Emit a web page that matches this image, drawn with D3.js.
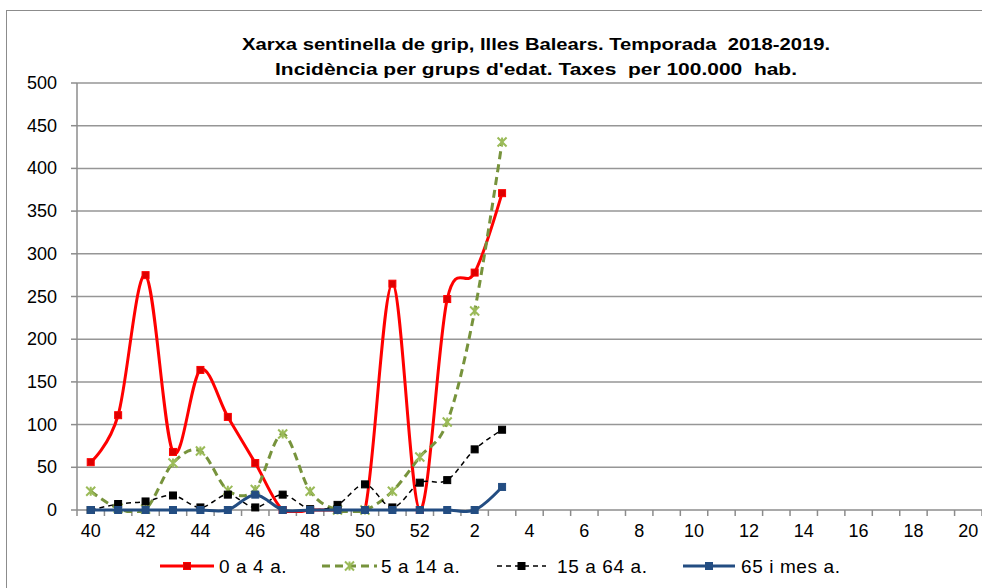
<!DOCTYPE html>
<html>
<head>
<meta charset="utf-8">
<script src="https://cdn.jsdelivr.net/npm/d3@7"></script>
<style>
  body { margin: 0; background: #fff; }
  svg { font-family: 'Liberation Sans', Arial, sans-serif; }
</style>
</head>
<body>
<svg width="982" height="588"></svg>
<script>
const weeks = ['40','41','42','43','44','45','46','47','48','49','50','51','52',
  '1','2','3','4','5','6','7','8','9','10','11','12','13','14','15','16','17','18','19','20']
const yTicks = [0, 50, 100, 150, 200, 250, 300, 350, 400, 450, 500]

// weeks 40..52, 1..3
const age0to4 = [56, 111, 275, 68, 164, 109, 55, 0, 0, 0, 0, 265, 0, 247, 278, 371]
const age5to14 = [22, 2, 1, 55, 69, 23, 24, 89, 22, 0, 0, 22, 62, 103, 233, 431]
const age15to64 = [0, 7, 10, 17, 3, 18, 3, 18, 1, 6, 30, 3, 32, 35, 71, 94]
const age65 = [0, 0, 0, 0, 0, 0, 18, 0, 0, 0, 0, 0, 0, 0, 0, 27]

const seriesNames = ['0 a 4 a.', '5 a 14 a.', '15 a 64 a.', '65 i mes a.']

const svg = d3.select('svg')
const width = +svg.attr('width')
const height = +svg.attr('height')
const margin = {left: 77, right: 0, top: 83, bottom: 78}

const x = d3.scaleBand().domain(weeks).range([margin.left, width - margin.right]).padding(0)
const y = d3.scaleLinear().domain([0, 500]).range([height - margin.bottom, margin.top])
const cx = d => x(d) + x.bandwidth() / 2

// chart border
svg.append('rect')
   .attr('x', 6.5).attr('y', 10.5)
   .attr('width', width + 20).attr('height', height + 20)
   .attr('fill', 'none').attr('stroke', '#8c8c8c').attr('stroke-width', 1)

// title
const title = [
  {t: 'Xarxa sentinella de grip, Illes Balears. Temporada  2018-2019.', y: 50, w: 588},
  {t: 'Incidència per grups d\'edat. Taxes  per 100.000  hab.', y: 75, w: 522}
]
svg.selectAll('.title').data(title).enter().append('text')
   .attr('class', 'title')
   .attr('x', 536).attr('y', d => d.y)
   .attr('text-anchor', 'middle')
   .attr('font-size', 17).attr('font-weight', 'bold')
   .attr('textLength', d => d.w).attr('lengthAdjust', 'spacingAndGlyphs')
   .style('white-space', 'pre')
   .text(d => d.t)

// gridlines
svg.append('g').selectAll('line').data(yTicks.slice(1)).enter().append('line')
   .attr('x1', margin.left).attr('x2', width)
   .attr('y1', d => y(d)).attr('y2', d => y(d))
   .attr('stroke', '#969696').attr('stroke-width', 1.5)

// y axis
const yAxis = svg.append('g')
yAxis.append('line')
   .attr('x1', margin.left).attr('x2', margin.left)
   .attr('y1', y(500)).attr('y2', y(0))
   .attr('stroke', '#8c8c8c').attr('stroke-width', 1.5)
yAxis.selectAll('.tk').data(yTicks).enter().append('line')
   .attr('x1', margin.left - 6).attr('x2', margin.left)
   .attr('y1', d => y(d)).attr('y2', d => y(d))
   .attr('stroke', '#8c8c8c').attr('stroke-width', 1.5)
yAxis.selectAll('text').data(yTicks).enter().append('text')
   .attr('x', 57).attr('y', d => y(d) + 6)
   .attr('text-anchor', 'end').attr('font-size', 18)
   .text(d => d)

// x axis
const xAxis = svg.append('g')
xAxis.append('line')
   .attr('x1', margin.left).attr('x2', width)
   .attr('y1', y(0)).attr('y2', y(0))
   .attr('stroke', '#8c8c8c').attr('stroke-width', 1.5)
xAxis.selectAll('.tk').data(weeks.concat(['end'])).enter().append('line')
   .attr('x1', (d, i) => margin.left + i * x.bandwidth())
   .attr('x2', (d, i) => margin.left + i * x.bandwidth())
   .attr('y1', y(0)).attr('y2', y(0) + 6)
   .attr('stroke', '#8c8c8c').attr('stroke-width', 1.5)
xAxis.selectAll('text').data(weeks.filter((d, i) => i % 2 === 0)).enter().append('text')
   .attr('x', d => cx(d)).attr('y', y(0) + 27)
   .attr('text-anchor', 'middle').attr('font-size', 18)
   .text(d => d)

// series
const series = [
  {name: seriesNames[0], values: age0to4, color: '#ff0000', width: 3, dash: null, marker: 'square', mfill: '#dd0000', mstroke: '#ff0000', msize: 7},
  {name: seriesNames[1], values: age5to14, color: '#77933c', width: 3, dash: '8,5', marker: 'star', mfill: '#9bbb59', mstroke: '#9bbb59', msize: 9},
  {name: seriesNames[2], values: age15to64, color: '#000000', width: 1.5, dash: '5,4', marker: 'square', mfill: '#000000', mstroke: '#000000', msize: 7},
  {name: seriesNames[3], values: age65, color: '#234d82', width: 3, dash: null, marker: 'square', mfill: '#234d82', mstroke: '#234d82', msize: 7}
]

svg.append('clipPath').attr('id', 'plot-clip')
   .append('rect')
   .attr('x', margin.left).attr('y', margin.top)
   .attr('width', width - margin.left).attr('height', y(0) - margin.top + 3)

const line = d3.line()
  .x((d, i) => cx(weeks[i]))
  .y(d => y(d))
  .curve(d3.curveCardinal.tension(0))

function drawMarker(g, s, px, py) {
  const h = s.msize / 2
  if (s.marker === 'square') {
    g.append('rect')
     .attr('x', px - h).attr('y', py - h)
     .attr('width', s.msize).attr('height', s.msize)
     .attr('fill', s.mfill).attr('stroke', s.mstroke).attr('stroke-width', 1)
  } else {
    g.append('path')
     .attr('d', `M${px - h},${py - h}L${px + h},${py + h}M${px - h},${py + h}L${px + h},${py - h}M${px},${py - h}L${px},${py + h}`)
     .attr('stroke', s.mstroke).attr('stroke-width', 2).attr('fill', 'none')
  }
}

// draw lines in order, last series on top
series.forEach(s => {
  const g = svg.append('g')
  g.append('path')
   .attr('clip-path', 'url(#plot-clip)')
   .attr('d', line(s.values))
   .attr('fill', 'none')
   .attr('stroke', s.color)
   .attr('stroke-width', s.width)
   .attr('stroke-dasharray', s.dash)
  s.values.forEach((v, i) => drawMarker(g, s, cx(weeks[i]), y(v)))
})

// legend
const legend = [
  {x1: 160, x2: 214, tx: 219},
  {x1: 322, x2: 377, tx: 381},
  {x1: 497, x2: 546, tx: 557},
  {x1: 683, x2: 735, tx: 741}
]
const ly = 566
series.forEach((s, i) => {
  const l = legend[i]
  const g = svg.append('g')
  g.append('line')
   .attr('x1', l.x1).attr('x2', l.x2).attr('y1', ly).attr('y2', ly)
   .attr('stroke', s.color).attr('stroke-width', s.width)
   .attr('stroke-dasharray', s.dash)
  drawMarker(g, s, (l.x1 + l.x2) / 2, ly)
  g.append('text')
   .attr('x', l.tx).attr('y', ly + 7)
   .attr('font-size', 19)
   .attr('letter-spacing', 0.6)
   .text(s.name)
})
</script>
</body>
</html>
